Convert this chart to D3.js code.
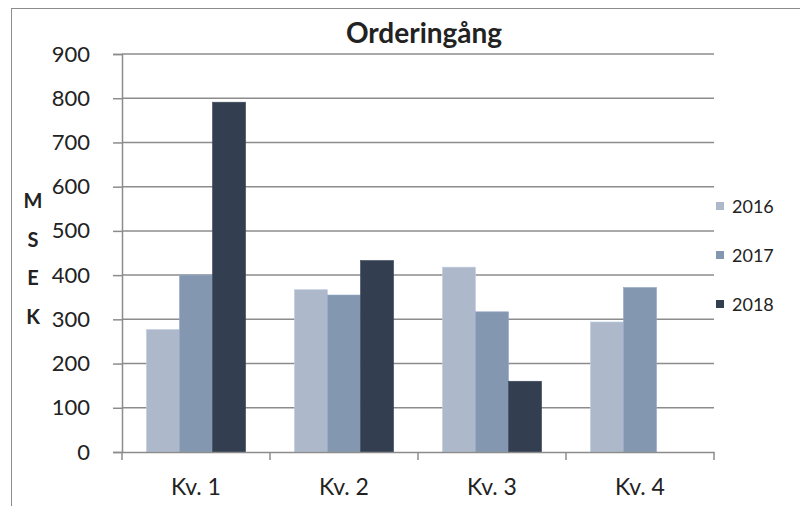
<!DOCTYPE html>
<html>
<head>
<meta charset="utf-8">
<script src="https://cdn.jsdelivr.net/npm/d3@7"></script>
<style>
  body { margin: 0; background: #fff; }
  text { font-family: Lato, "Noto Sans", sans-serif; fill: #222; }
</style>
</head>
<body>
<svg width="800" height="506"></svg>
<script>
var quarters = ['Kv. 1', 'Kv. 2', 'Kv. 3', 'Kv. 4'];
var years = ['2016', '2017', '2018'];
var values2016 = [277, 367, 418, 294];
var values2017 = [400, 355, 317, 372];
var values2018 = [791, 433, 160, null];
var yTicks = [0, 100, 200, 300, 400, 500, 600, 700, 800, 900];
var colors = ['#adb9ca', '#8497b0', '#333f50'];
var axisLetters = ['M', 'S', 'E', 'K'];

var series = [values2016, values2017, values2018];

var svg = d3.select('svg');
var margin = { top: 54, left: 122, right: 86, bottom: 54 };
var width = 800 - margin.left - margin.right;
var height = 506 - margin.top - margin.bottom;

// chart frame (only top/left visible in the screenshot)
svg.append('rect')
  .attr('x', 11.5).attr('y', 8.5)
  .attr('width', 820).attr('height', 520)
  .attr('fill', 'none').attr('stroke', '#8c8c8c').attr('stroke-width', 1);

var g = svg.append('g')
  .attr('transform', 'translate(' + margin.left + ',' + margin.top + ')');

var x0 = d3.scaleBand().domain(quarters).range([0, width]).paddingInner(0).paddingOuter(0);
var x1 = d3.scaleBand().domain(years).range([0, x0.bandwidth()]).paddingOuter(0.74).paddingInner(0);
var y = d3.scaleLinear().domain([0, 900]).range([height, 0]);

// gridlines + y axis
var yAxis = g.append('g')
  .call(d3.axisLeft(y).tickValues(yTicks).tickSize(9).tickPadding(23));
yAxis.select('.domain').attr('stroke', '#8c8c8c').attr('stroke-width', 1.5);
yAxis.selectAll('.tick line').attr('stroke', '#8c8c8c').attr('stroke-width', 1.5);
yAxis.selectAll('.tick text')
  .style('font-size', '22px').style('font-family', 'Lato').attr('fill', '#262626');

g.append('g').selectAll('line')
  .data(yTicks.filter(function(d) { return d > 0; }))
  .enter().append('line')
  .attr('x1', 0).attr('x2', width)
  .attr('y1', function(d) { return y(d); })
  .attr('y2', function(d) { return y(d); })
  .attr('stroke', '#8c8c8c').attr('stroke-width', 1.5);

// bars
quarters.forEach(function(q, qi) {
  years.forEach(function(yr, si) {
    var v = series[si][qi];
    if (v == null) return;
    g.append('rect')
      .attr('x', x0(q) + x1(yr))
      .attr('y', y(v))
      .attr('width', x1.bandwidth())
      .attr('height', height - y(v))
      .attr('fill', colors[si])
      .attr('stroke', d3.color(colors[si]).brighter(0.3))
      .attr('stroke-width', 0.6);
  });
});

// x axis
var xAxis = g.append('g')
  .attr('transform', 'translate(0,' + height + ')')
  .call(d3.axisBottom(x0).tickSize(0).tickPadding(27));
xAxis.select('.domain').attr('stroke', '#8c8c8c').attr('stroke-width', 1.5);
xAxis.selectAll('.tick text')
  .style('font-size', '23px').style('font-family', 'Lato').attr('fill', '#262626');

// category boundary ticks
g.append('g').selectAll('line')
  .data(d3.range(quarters.length + 1))
  .enter().append('line')
  .attr('x1', function(d) { return d * x0.bandwidth(); })
  .attr('x2', function(d) { return d * x0.bandwidth(); })
  .attr('y1', height).attr('y2', height + 8)
  .attr('stroke', '#8c8c8c').attr('stroke-width', 1.5);

// title
svg.append('text')
  .attr('x', 424).attr('y', 43)
  .attr('text-anchor', 'middle')
  .style('font-size', '28px').style('font-weight', 'bold')
  .attr('fill', '#000')
  .text('Orderingång');

// y axis title, stacked letters
svg.append('g').selectAll('text')
  .data(axisLetters)
  .enter().append('text')
  .attr('x', 33)
  .attr('y', function(d, i) { return 208 + i * 38.5; })
  .attr('text-anchor', 'middle')
  .style('font-size', '20px').style('font-weight', 'bold')
  .attr('fill', '#000')
  .text(function(d) { return d; });

// legend
var legend = svg.append('g').attr('transform', 'translate(716,206)');
years.forEach(function(yr, i) {
  var row = legend.append('g').attr('transform', 'translate(0,' + i * 49 + ')');
  row.append('rect')
    .attr('x', 0).attr('y', -4).attr('width', 8).attr('height', 8)
    .attr('fill', colors[i]);
  row.append('text')
    .attr('x', 16).attr('y', 6.5)
    .style('font-size', '18px')
    .text(yr);
});
</script>
</body>
</html>
